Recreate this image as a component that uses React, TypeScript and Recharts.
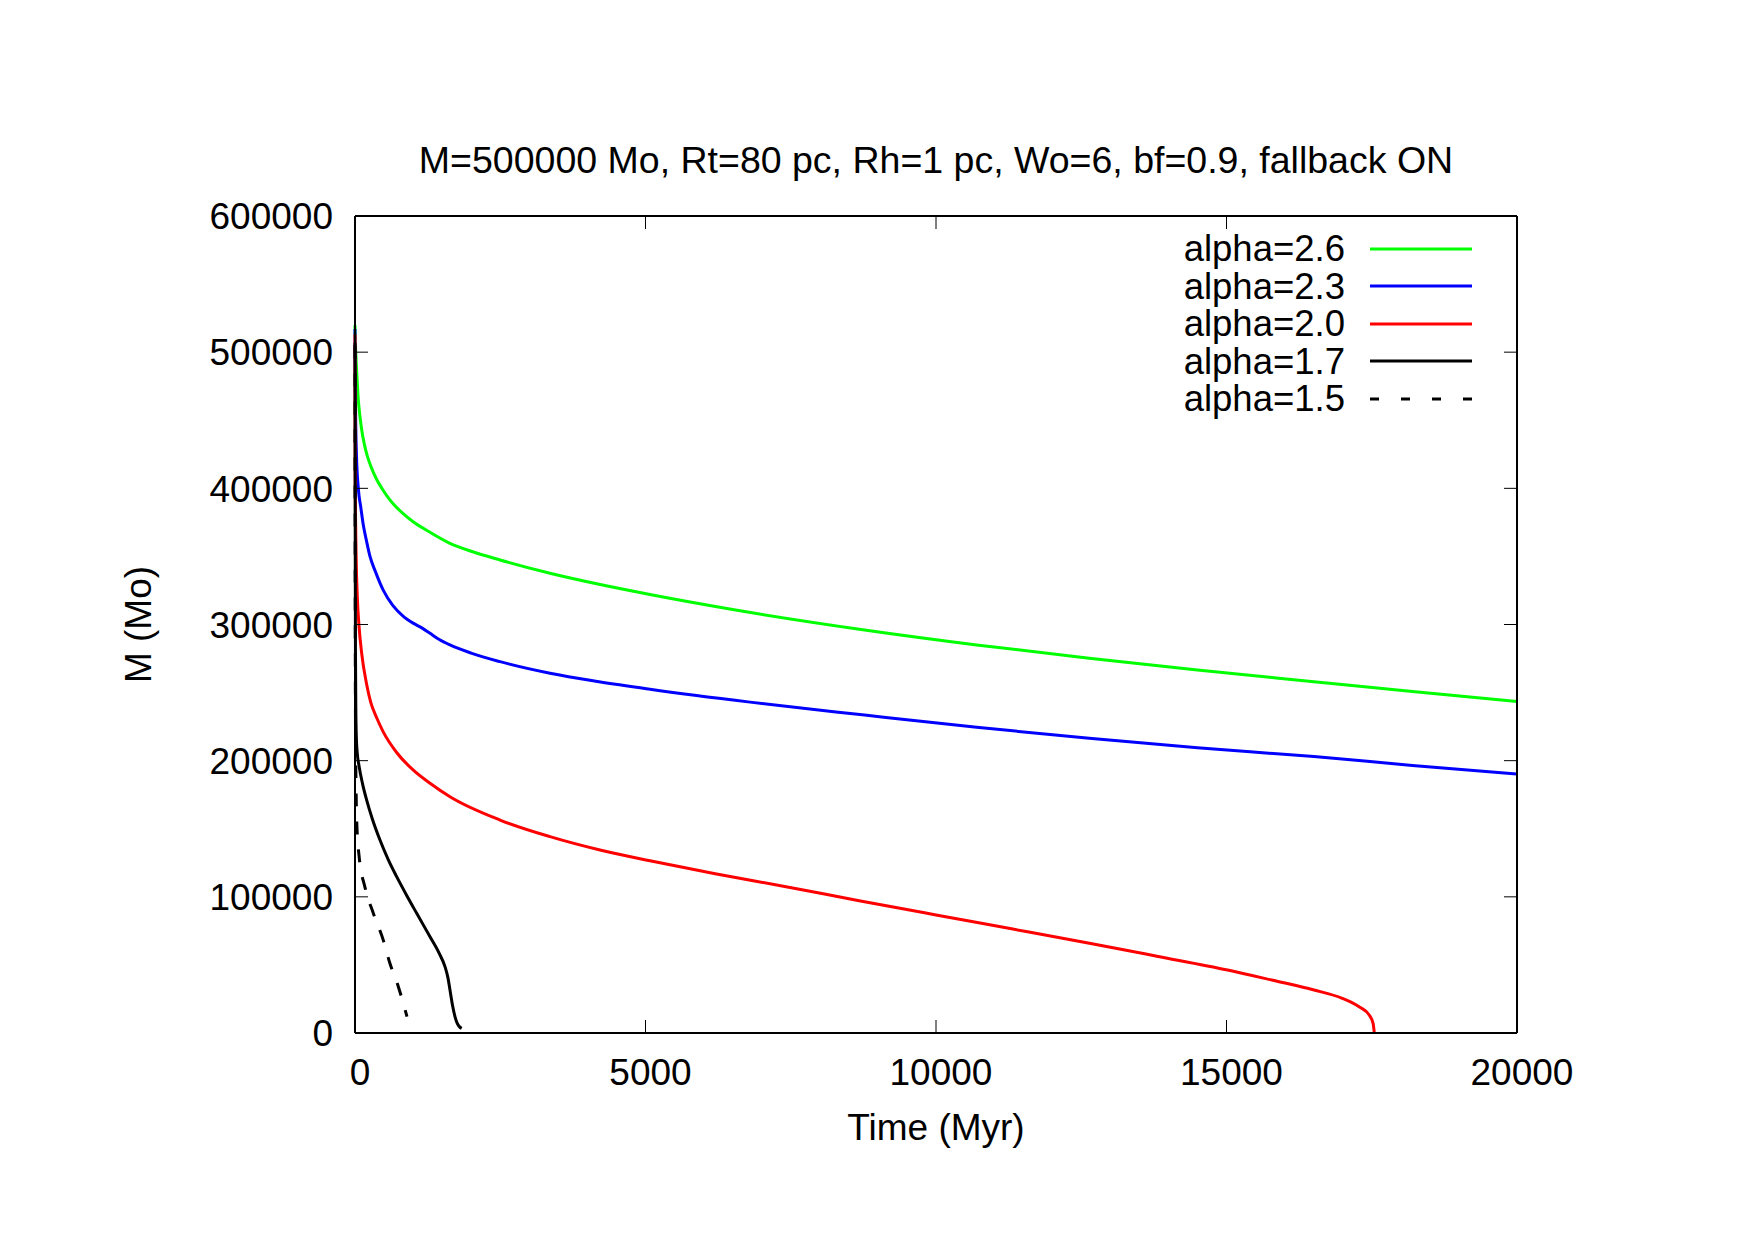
import React from 'react';
import { LineChart, Line, XAxis, YAxis, Legend } from 'recharts';

// Mass-loss tracks (time in Myr, mass in Mo)
const timeTicks = [0, 5000, 10000, 15000, 20000];
const massTicks = [0, 100000, 200000, 300000, 400000, 500000, 600000];

const a26Time = [0, 5, 15, 30, 55, 85, 115, 160, 210, 270, 373, 470, 574, 660, 800, 1000, 1262, 1635, 2000, 2496, 3356, 4200, 5077, 6500, 8771, 10700, 12637, 14500, 16504, 18200, 20000];
const a26Mass = [520000, 510000, 498000, 485000, 466000, 453000, 443000, 432500, 424000, 416500, 406500, 399500, 393000, 388500, 382500, 375500, 368500, 359600, 353800, 347400, 337600, 329500, 322000, 311000, 296000, 285000, 275200, 266500, 258000, 250800, 243500];

const a23Time = [0, 3, 10, 25, 57, 100, 143, 200, 258, 350, 488, 650, 832, 1000, 1150, 1291, 1450, 1635, 2000, 2496, 3356, 4200, 5077, 6800, 8771, 10700, 12637, 14500, 16504, 18200, 20000];
const a23Mass = [517000, 490000, 455000, 425000, 400000, 386000, 373000, 361000, 350000, 339000, 325000, 314000, 306000, 301000, 297500, 293500, 289000, 285000, 279000, 272700, 264200, 258000, 252500, 243000, 233500, 224500, 216400, 209500, 203000, 196500, 190200];

const a20Time = [0, 2, 5, 10, 20, 40, 70, 115, 201, 270, 373, 488, 717, 1004, 1291, 1635, 2496, 3356, 4217, 5077, 6200, 7418, 8700, 10000, 11300, 12640, 13800, 15019, 15800, 16506, 16992, 17282, 17456, 17523, 17544];
const a20Mass = [513000, 440000, 403000, 376000, 348000, 320000, 298500, 278800, 256000, 243000, 231500, 221000, 206000, 193000, 183400, 173500, 156400, 144200, 134400, 126500, 117000, 107400, 97000, 86700, 76500, 65900, 56400, 46300, 38700, 31600, 25500, 19300, 13200, 7100, 0];

const a17Time = [0, 3, 8, 15, 25, 40, 70, 130, 201, 300, 430, 570, 717, 890, 1062, 1291, 1450, 1549, 1600, 1635, 1680, 1721, 1760, 1800, 1836];
const a17Mass = [507000, 380000, 280000, 235000, 215000, 205000, 196000, 183000, 171000, 157000, 141700, 127500, 114800, 101000, 87900, 70700, 58500, 48700, 40500, 31600, 20000, 12000, 7000, 4500, 3400];

const a15Time = [0, 2, 5, 10, 17, 30, 70, 172, 315, 488, 602, 746, 895];
const a15Mass = [505000, 380000, 280000, 215000, 185000, 155000, 130000, 107000, 88000, 68000, 51000, 34000, 12000];

const toPoints = (ts: number[], ms: number[]) => ts.map((t, i) => ({ t, m: ms[i] }));

const series = [
  { name: 'alpha=2.6', color: '#00ff00', dash: undefined, legendDash: undefined, data: toPoints(a26Time, a26Mass) },
  { name: 'alpha=2.3', color: '#0000ff', dash: undefined, legendDash: undefined, data: toPoints(a23Time, a23Mass) },
  { name: 'alpha=2.0', color: '#ff0000', dash: undefined, legendDash: undefined, data: toPoints(a20Time, a20Mass) },
  { name: 'alpha=1.7', color: '#000000', dash: undefined, legendDash: undefined, data: toPoints(a17Time, a17Mass) },
  { name: 'alpha=1.5', color: '#000000', dash: '13 15', legendDash: '9 22', data: toPoints(a15Time, a15Mass) },
];

const title = 'M=500000 Mo, Rt=80 pc, Rh=1 pc, Wo=6, bf=0.9, fallback ON';
const font = '"Liberation Sans", Arial, Helvetica, sans-serif';
const fontSize = 37;
const tickLen = 13;

function BottomTick({ x, y, payload }: any) {
  return (
    <g>
      <line x1={x} y1={y} x2={x} y2={y - tickLen} stroke="#000" strokeWidth={1} />
      <text x={x + 5} y={y + 52} textAnchor="middle" fontSize={fontSize} fontFamily={font} fill="#000">
        {payload.value}
      </text>
    </g>
  );
}

function TopTick({ x, y }: any) {
  return <line x1={x} y1={y} x2={x} y2={y + tickLen} stroke="#000" strokeWidth={1} />;
}

function LeftTick({ x, y, payload }: any) {
  return (
    <g>
      <line x1={x} y1={y} x2={x + tickLen} y2={y} stroke="#000" strokeWidth={1} />
      <text x={x - 22} y={y} dy="0.36em" textAnchor="end" fontSize={fontSize} fontFamily={font} fill="#000">
        {payload.value}
      </text>
    </g>
  );
}

function RightTick({ x, y }: any) {
  return <line x1={x} y1={y} x2={x - tickLen} y2={y} stroke="#000" strokeWidth={1} />;
}

function renderLegend() {
  return (
    <div style={{ fontFamily: font, fontSize: 36.5, color: '#000' }}>
      {series.map((s) => (
        <div key={s.name} style={{ display: 'flex', alignItems: 'center', height: 37.5 }}>
          <span style={{ width: 245, textAlign: 'right', lineHeight: '37.5px' }}>{s.name}</span>
          <svg width={103} height={6} style={{ marginLeft: 25 }}>
            <line x1={0} y1={3} x2={102} y2={3} stroke={s.color} strokeWidth={3} strokeDasharray={s.legendDash} />
          </svg>
        </div>
      ))}
    </div>
  );
}

export default function App() {
  return (
    <div style={{ position: 'absolute', left: 0, top: 0, width: 1755, height: 1240, background: '#fff' }}>
      <LineChart width={1755} height={1240} margin={{ top: 215, right: 237, bottom: 147, left: 255 }}>
        <XAxis
          dataKey="t"
          type="number"
          domain={[0, 20000]}
          ticks={timeTicks}
          interval={0}
          height={60}
          tickSize={0}
          tickMargin={0}
          tickLine={false}
          axisLine={{ stroke: '#000', strokeWidth: 2 }}
          tick={<BottomTick />}
          label={(p: any) => {
            const vb = p.viewBox;
            return (
              <text x={vb.x + vb.width / 2} y={vb.y + 107} textAnchor="middle" fontSize={fontSize} fontFamily={font} fill="#000">
                Time (Myr)
              </text>
            );
          }}
        />
        <XAxis
          xAxisId="top"
          orientation="top"
          dataKey="t"
          type="number"
          domain={[0, 20000]}
          ticks={timeTicks}
          interval={0}
          height={1}
          tickSize={0}
          tickMargin={0}
          tickLine={false}
          axisLine={{ stroke: '#000', strokeWidth: 2 }}
          tick={<TopTick />}
          label={(p: any) => {
            const vb = p.viewBox;
            return (
              <text x={vb.x + vb.width / 2} y={vb.y + vb.height - 43} textAnchor="middle" fontSize={37.5} fontFamily={font} fill="#000">
                {title}
              </text>
            );
          }}
        />
        <YAxis
          type="number"
          domain={[0, 600000]}
          ticks={massTicks}
          interval={0}
          width={100}
          tickSize={0}
          tickMargin={0}
          tickLine={false}
          axisLine={{ stroke: '#000', strokeWidth: 2 }}
          tick={<LeftTick />}
          label={(p: any) => {
            const vb = p.viewBox;
            const cx = vb.x + vb.width - 217;
            const cy = vb.y + vb.height / 2;
            return (
              <text x={cx} y={cy} dy="0.36em" transform={`rotate(-90, ${cx}, ${cy})`} textAnchor="middle" fontSize={fontSize} fontFamily={font} fill="#000">
                M (Mo)
              </text>
            );
          }}
        />
        <YAxis
          yAxisId="right"
          orientation="right"
          type="number"
          domain={[0, 600000]}
          ticks={massTicks}
          interval={0}
          width={1}
          tickSize={0}
          tickMargin={0}
          tickLine={false}
          axisLine={{ stroke: '#000', strokeWidth: 2 }}
          tick={<RightTick />}
        />
        <Legend
          layout="vertical"
          align="center"
          verticalAlign="middle"
          wrapperStyle={{ top: 230, left: 1100, width: 400 }}
          content={renderLegend}
        />
        {/* invisible copy of a series so the mirrored top/right axes get drawn */}
        <Line
          xAxisId="top"
          yAxisId="right"
          data={series[0].data}
          dataKey="m"
          stroke="none"
          dot={false}
          activeDot={false}
          legendType="none"
          isAnimationActive={false}
        />
        {series.map((s) => (
          <Line
            key={s.name}
            name={s.name}
            data={s.data}
            dataKey="m"
            type="monotone"
            stroke={s.color}
            strokeWidth={3}
            strokeDasharray={s.dash}
            dot={false}
            activeDot={false}
            isAnimationActive={false}
          />
        ))}
      </LineChart>
    </div>
  );
}
